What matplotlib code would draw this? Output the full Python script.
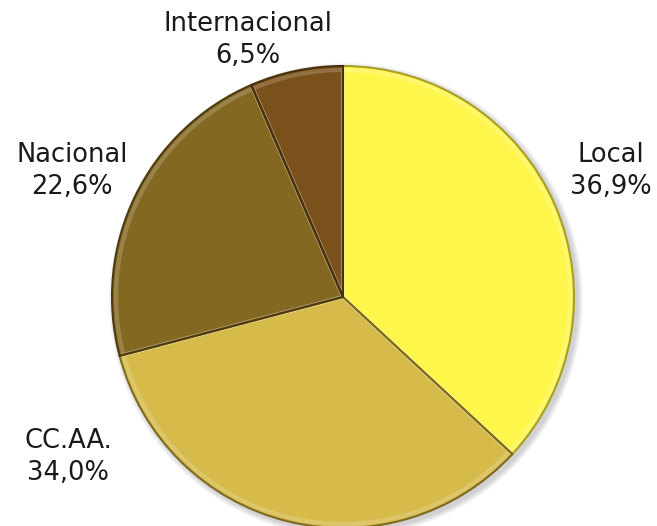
import numpy as np
import matplotlib.pyplot as plt

# reparto por ámbito
ambitos = ['Local', 'CC.AA.', 'Nacional', 'Internacional']
porcentajes = [36.9, 34.0, 22.6, 6.5]
colores = ['#FFF64C', '#D6BA4A', '#836822', '#7B511B']
bordes = ['#A89F28', '#7E6A22', '#4E3A0E', '#46300E']

W, H = 657, 526
fig = plt.figure(figsize=(W / 100, H / 100), dpi=100)
ax = fig.add_axes([0, 0, 1, 1])
ax.set_aspect('equal')
ax.axis('off')

centro = (343, H - 297)
radio = 231

# sombra suave
for k in range(6):
    ax.pie([1], radius=radio + 6 - k, center=(centro[0] + 3, centro[1] - 3),
           colors=['#000000'], wedgeprops=dict(alpha=0.03, linewidth=0))

wedges, _ = ax.pie(porcentajes, radius=radio, center=centro, colors=colores,
                   startangle=90, counterclock=False,
                   wedgeprops=dict(linewidth=0))

# bisel claro en el interior de cada sector
ax.pie(porcentajes, radius=radio - 4, center=centro, colors=['white'] * 4,
       startangle=90, counterclock=False,
       wedgeprops=dict(linewidth=3, edgecolor='white', alpha=0.18, fill=False))

# bordes oscuros por encima
bordes_w, _ = ax.pie(porcentajes, radius=radio, center=centro, colors=['white'] * 4,
                     startangle=90, counterclock=False,
                     wedgeprops=dict(linewidth=1.5, fill=False))
for w, b in zip(bordes_w, bordes):
    w.set_edgecolor(b)

ax.set_xlim(0, W)
ax.set_ylim(0, H)

# etiquetas
posiciones = [(611, 171), (68, 457), (72, 171), (248, 40)]
for nombre, pct, (x, y) in zip(ambitos, porcentajes, posiciones):
    texto = nombre + '\n' + f'{pct:.1f}'.replace('.', ',') + '%'
    ax.text(x, H - y, texto, ha='center', va='center', fontsize=18.5,
            color='#1a1a1a', linespacing=1.33, family='DejaVu Sans')

fig.savefig('out.png', dpi=100)
